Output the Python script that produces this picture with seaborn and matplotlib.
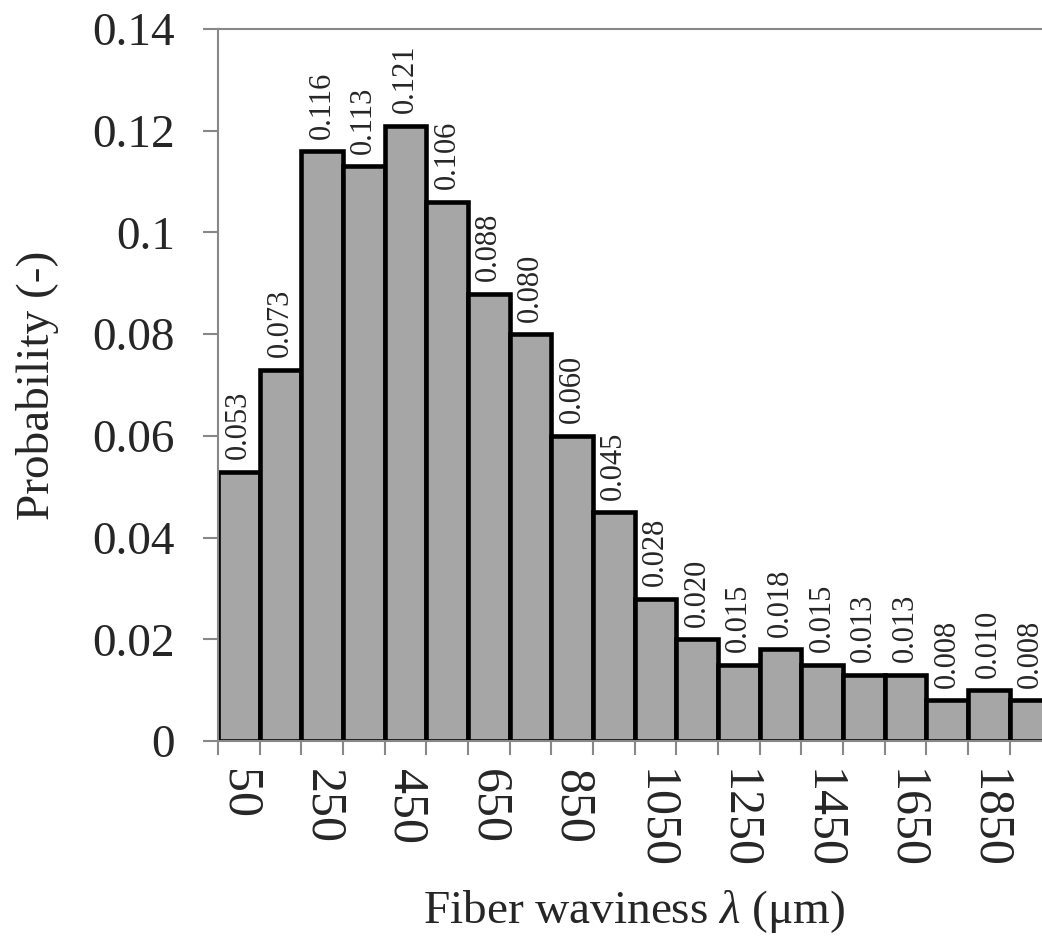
import numpy as np
import pandas as pd
import seaborn as sns
import matplotlib.pyplot as plt
from matplotlib.ticker import FuncFormatter, FixedLocator

# bin centres (um) and probability of each bin
waviness = [50, 150, 250, 350, 450, 550, 650, 750, 850, 950,
            1050, 1150, 1250, 1350, 1450, 1550, 1650, 1750, 1850, 1950]
probability = [0.053, 0.073, 0.116, 0.113, 0.121, 0.106, 0.088, 0.080, 0.060, 0.045,
               0.028, 0.020, 0.015, 0.018, 0.015, 0.013, 0.013, 0.008, 0.010, 0.008]
yticks = [0, 0.02, 0.04, 0.06, 0.08, 0.1, 0.12, 0.14]

df = pd.DataFrame({'waviness': [str(w) for w in waviness], 'probability': probability})

sns.set_style('white')
plt.rcParams['font.family'] = ['Liberation Serif', 'DejaVu Serif']
plt.rcParams['mathtext.fontset'] = 'custom'
plt.rcParams['mathtext.it'] = 'Liberation Serif:italic'
plt.rcParams['mathtext.rm'] = 'Liberation Serif'

fig = plt.figure(figsize=(10.42, 9.41), dpi=100)
ax = fig.add_axes([0.2092, 0.2125, 0.7996, 0.7566])

sns.barplot(data=df, x='waviness', y='probability', color='#A6A6A6', saturation=1,
            edgecolor='black', linewidth=3.3, width=1.0, ax=ax)

ax.bar_label(ax.containers[0], labels=['%.3f' % p for p in probability],
             rotation=90, padding=9, fontsize=22)

ax.set_ylim(0, 0.14)
ax.set_xlim(-0.5, len(waviness) - 0.5)
ax.set_yticks(yticks)
ax.yaxis.set_major_formatter(FuncFormatter(lambda v, pos: '%g' % v))

# labels at every other bar centre, ticks at bar boundaries
pos = list(range(0, len(waviness), 2))
ax.set_xticks(pos)
ax.set_xticklabels([str(waviness[i]) for i in pos], rotation=-90)
ax.xaxis.set_minor_locator(FixedLocator(np.arange(-0.5, len(waviness), 1.0)))
ax.tick_params(axis='x', which='major', length=0, pad=20, labelsize=36)
ax.tick_params(axis='x', which='minor', length=10, width=1.5, color='#888888', bottom=True)
ax.tick_params(axis='y', length=11, width=1.5, color='#888888', left=True, labelsize=34, pad=20)

for side in ['left', 'bottom', 'top']:
    ax.spines[side].set_color('#888888')
    ax.spines[side].set_linewidth(1.5)
ax.spines['right'].set_visible(False)

ax.set_xlabel('Fiber waviness $\\mathit{\\lambda}$ (μm)', fontsize=34, labelpad=14)
ax.set_ylabel('Probability (-)', fontsize=34, labelpad=24)

plt.savefig('out.png', dpi=100)
